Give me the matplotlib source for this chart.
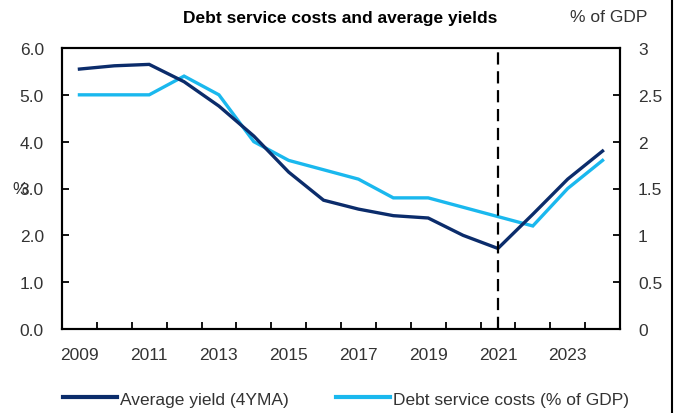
import matplotlib
import matplotlib.pyplot as plt
import numpy as np
from matplotlib.lines import Line2D

matplotlib.use("Agg")

plt.rcParams["font.family"] = ["Liberation Sans", "DejaVu Sans"]

years = list(range(2009, 2025))
avg_yield = [5.55, 5.62, 5.65, 5.28, 4.76, 4.12, 3.35, 2.75, 2.56, 2.42, 2.37,
             2.0, 1.72, 2.45, 3.2, 3.8]
debt_service = [2.5, 2.5, 2.5, 2.7, 2.5, 2.0, 1.8, 1.7, 1.6, 1.4, 1.4,
                1.3, 1.2, 1.1, 1.5, 1.8]
year_labels = [str(y) if (y - 2009) % 2 == 0 else "" for y in years]
cut_year = 2021

NAVY = "#0b2c6b"
CYAN = "#1ab8ee"
TEXT = "#333333"

fig = plt.figure(figsize=(6.77, 4.14), dpi=100)
ax = fig.add_axes([62 / 677, 1 - 330 / 414, 558 / 677, 281 / 414])
ax2 = ax.twinx()

x = np.arange(len(years))
ax.plot(x, avg_yield, color=NAVY, lw=2.4, solid_joinstyle="miter", zorder=3)
ax2.plot(x, debt_service, color=CYAN, lw=2.4, solid_joinstyle="miter", zorder=2)
ax.axvline(years.index(cut_year), ymin=0, ymax=0.985, color="black", lw=1.6,
           ls=(0, (5.5, 3)), zorder=4)

ax.set_zorder(ax2.get_zorder() + 1)
ax.patch.set_visible(False)

ax.set_xlim(-0.5, len(years) - 0.5)
ax.set_ylim(0, 6)
ax2.set_ylim(0, 3)

# category axis: ticks between years, labels centred on every other year
ax.set_xticks(np.arange(len(years) + 1) - 0.5)
ax.set_xticklabels([])
ax.set_xticks(x, minor=True)
ax.set_xticklabels(year_labels, minor=True)
ax.tick_params(axis="x", which="major", direction="in", length=5, width=1.3)
ax.tick_params(axis="x", which="minor", length=0, pad=13,
               labelsize=12.5, labelcolor=TEXT)

ax.set_yticks(np.arange(0, 6.1, 1))
ax.set_yticklabels([f"{v:.1f}" for v in np.arange(0, 6.1, 1)])
ax.tick_params(axis="y", direction="in", length=5, width=1.3, pad=13,
               labelsize=12.5, labelcolor=TEXT)

ax2.set_yticks(np.arange(0, 3.1, 0.5))
ax2.set_yticklabels(["0", "0.5", "1", "1.5", "2", "2.5", "3"])
ax2.tick_params(axis="y", direction="in", length=5, width=1.3, pad=13,
                labelsize=12.5, labelcolor=TEXT)

for a in (ax, ax2):
    for s in a.spines.values():
        s.set_linewidth(1.5)
        s.set_color("black")

fig.text(340 / 677, 1 - 18 / 414, "Debt service costs and average yields",
         ha="center", va="center", fontsize=12.5, fontweight="bold")
fig.text(609 / 677, 1 - 18 / 414, "% of GDP", ha="center", va="center",
         fontsize=12.5, color=TEXT)
fig.text(20 / 677, 1 - 190 / 414, "%", ha="center", va="center",
         fontsize=12.5, color=TEXT)

handles = [Line2D([], [], color=NAVY, lw=3),
           Line2D([], [], color=CYAN, lw=3)]
fig.legend(handles, ["Average yield (4YMA)", "Debt service costs (% of GDP)"],
           loc="center", bbox_to_anchor=(346 / 677, 1 - 400 / 414), ncol=2,
           frameon=False, fontsize=12.5, handlelength=3.1, handletextpad=0.17,
           columnspacing=2.7, labelcolor=TEXT)

fig.add_artist(Line2D([672 / 677, 672 / 677], [0, 1], color="black", lw=1.5))

plt.savefig("out.png", dpi=100)
